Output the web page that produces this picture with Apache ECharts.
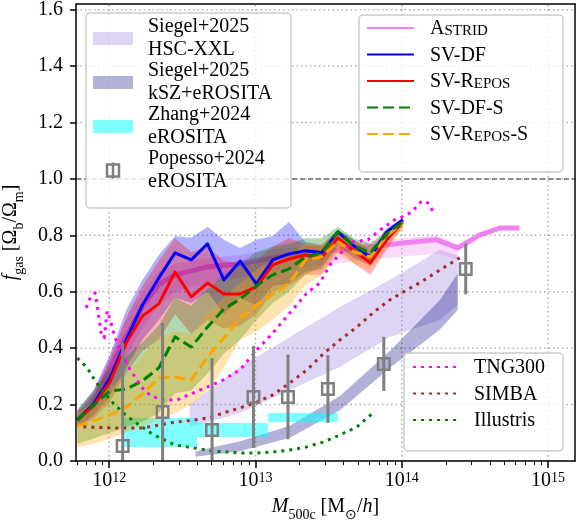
<!DOCTYPE html>
<html><head><meta charset="utf-8">
<script src="https://cdn.jsdelivr.net/npm/echarts@6/dist/echarts.min.js"></script>
<style>html,body{margin:0;padding:0;background:#fff}#c{width:578px;height:527px}</style>
</head><body><div id="c"></div>
<script>
// ---------------- DATA (x values are log10 M500c [Msun/h]) ----------------
const svLogM = [11.782, 11.893, 12.005, 12.116, 12.227, 12.339, 12.450, 12.561, 12.672, 12.784, 12.895, 13.006, 13.118, 13.229, 13.340, 13.451, 13.563, 13.674, 13.785, 13.897, 14.008];

const dfMean = [0.145,0.202,0.294,0.429,0.553,0.649,0.738,0.713,0.770,0.642,0.709,0.628,0.713,0.734,0.745,0.738,0.812,0.762,0.723,0.812,0.855];
const dfLow  = [0.12,0.16,0.23,0.33,0.43,0.50,0.58,0.56,0.60,0.52,0.58,0.55,0.62,0.63,0.67,0.68,0.76,0.72,0.69,0.78,0.84];
const dfHigh = [0.181,0.252,0.376,0.535,0.642,0.730,0.798,0.791,0.830,0.784,0.755,0.784,0.798,0.848,0.777,0.766,0.819,0.784,0.748,0.826,0.862];

const reposMean = [0.145,0.195,0.280,0.418,0.514,0.557,0.670,0.582,0.631,0.592,0.592,0.617,0.695,0.716,0.730,0.720,0.791,0.745,0.702,0.784,0.848];
const reposLow  = [0.12,0.15,0.21,0.31,0.39,0.43,0.52,0.45,0.50,0.47,0.48,0.52,0.60,0.62,0.66,0.66,0.75,0.70,0.66,0.75,0.83];
const reposHigh = [0.17,0.24,0.36,0.51,0.62,0.71,0.79,0.74,0.76,0.71,0.70,0.71,0.76,0.79,0.77,0.76,0.82,0.78,0.74,0.81,0.86];

const dfsMean = [0.145,0.199,0.248,0.255,0.284,0.330,0.440,0.404,0.475,0.539,0.574,0.621,0.660,0.681,0.723,0.738,0.812,0.762,0.738,0.805,0.848];
const dfsLow  = [0.06,0.08,0.10,0.12,0.14,0.17,0.24,0.25,0.31,0.38,0.43,0.50,0.56,0.60,0.66,0.69,0.77,0.73,0.70,0.78,0.83];
const dfsHigh = [0.18,0.25,0.33,0.37,0.42,0.48,0.58,0.55,0.61,0.66,0.70,0.74,0.76,0.77,0.79,0.79,0.83,0.79,0.77,0.82,0.86];

const repossMean = [0.124,0.142,0.163,0.191,0.238,0.294,0.298,0.287,0.369,0.436,0.507,0.553,0.589,0.628,0.713,0.723,0.777,0.741,0.723,0.798,0.844];
const repossLow  = [0.05,0.06,0.08,0.10,0.12,0.145,0.17,0.20,0.25,0.33,0.43,0.46,0.50,0.55,0.62,0.66,0.73,0.70,0.68,0.76,0.82];
const repossHigh = [0.17,0.21,0.26,0.31,0.37,0.44,0.46,0.45,0.52,0.58,0.63,0.68,0.71,0.73,0.77,0.77,0.81,0.78,0.76,0.82,0.86];

const astridLogM = [11.782,11.891,12.007,12.116,12.225,12.334,12.451,12.669,12.894,13.119,13.338,13.563,13.782,14.007,14.239,14.382,14.532,14.669,14.805];
const astridMean = [0.145,0.206,0.330,0.440,0.546,0.624,0.660,0.688,0.699,0.720,0.738,0.748,0.759,0.773,0.784,0.755,0.801,0.826,0.826];
const astridBandLogM = [11.782,11.891,12.007,12.116,12.225,12.334,12.451,12.669,12.894,13.119,13.338,13.563,13.782,14.007,14.239,14.382];
const astridLow  = [0.12,0.17,0.27,0.37,0.47,0.55,0.60,0.63,0.65,0.67,0.69,0.70,0.715,0.725,0.735,0.715];
const astridHigh = [0.17,0.24,0.38,0.50,0.60,0.67,0.70,0.72,0.73,0.75,0.76,0.77,0.78,0.79,0.80,0.77];

const tngLogM = [11.843,11.870,11.904,11.925,11.945,11.966,11.986,12.007,12.034,12.075,12.143,12.246,12.348,12.464,12.573,12.669,12.778,12.894,13.010,13.119,13.235,13.352,13.440,13.509,13.590,13.666,13.768,13.870,13.952,14.020,14.068,14.137,14.177,14.212];
const tngF = [0.543,0.578,0.596,0.525,0.454,0.436,0.532,0.500,0.447,0.387,0.323,0.245,0.216,0.216,0.241,0.262,0.287,0.323,0.394,0.454,0.525,0.596,0.631,0.695,0.741,0.777,0.784,0.826,0.855,0.869,0.883,0.922,0.915,0.887];

const simbaLogM = [11.823,12.041,12.232,12.416,12.573,12.669,12.778,12.894,13.010,13.119,13.235,13.352,13.461,13.577,13.693,13.802,13.918,14.034,14.143,14.259,14.396];
const simbaF = [0.121,0.117,0.117,0.135,0.145,0.152,0.170,0.188,0.209,0.234,0.277,0.323,0.379,0.429,0.475,0.525,0.571,0.606,0.638,0.677,0.720];

const illustrisLogM = [11.782,11.850,11.904,11.959,12.020,12.089,12.157,12.225,12.294,12.362,12.451,12.532,12.621,12.710,12.805,12.894,13.010,13.119,13.235,13.352,13.461,13.577,13.693,13.802];
const illustrisF = [0.365,0.330,0.284,0.245,0.209,0.174,0.145,0.121,0.096,0.078,0.057,0.050,0.043,0.035,0.032,0.028,0.028,0.032,0.039,0.050,0.067,0.092,0.121,0.170];

const hscLogM = [12.55,12.894,13.235,13.577,13.918,14.259,14.382];
const hscLow  = [0.12,0.170,0.252,0.333,0.440,0.500,0.553];
const hscHigh = [0.20,0.333,0.440,0.546,0.642,0.748,0.730];

const kszLogM = [12.59,12.894,13.235,13.577,13.918,14.259,14.382];
const kszLow  = [0.015,0.035,0.082,0.18,0.33,0.465,0.535];
const kszHigh = [0.035,0.07,0.125,0.23,0.39,0.57,0.665];

const zhangLogMLo = [12.096,12.601,13.085];
const zhangLogMHi = [12.601,13.085,13.563];
const zhangFLo = [0.050,0.085,0.138];
const zhangFHi = [0.152,0.135,0.170];

const popLogM = [12.092,12.365,12.703,12.986,13.222,13.495,13.877,14.437];
const popF    = [0.053,0.174,0.110,0.227,0.227,0.255,0.344,0.681];
const popErr  = [0.365,0.315,0.255,0.181,0.150,0.120,0.096,0.090];

const xMajor = [12, 13, 14, 15];
const yTicks = [0, 0.2, 0.4, 0.6, 0.8, 1.0, 1.2, 1.4, 1.6];
const refLine = [1.0];

// ---------------- CHART ----------------
const X_MIN = 11.773, X_MAX = 15.184, Y_MIN = 0, Y_MAX = 1.62;
const xMinor = [];
for (let n = 11; n <= 15; n++) for (let k = 2; k <= 9; k++) {
  const v = n + Math.log10(k);
  if (v > X_MIN && v < X_MAX) xMinor.push(v);
}
const FONT = "'Liberation Serif', 'Times New Roman', serif";

function band(name, xs, lo, hi, fill, z) {
  return {
    type: 'custom', name, z, silent: true, clip: true,
    data: xs.map((x, i) => [x, lo[i], hi[i]]),
    encode: { x: 0, y: [1, 2] },
    renderItem: (params, api) => {
      if (params.dataIndex !== 0) return null;
      const pts = [];
      for (let i = 0; i < xs.length; i++) pts.push(api.coord([xs[i], hi[i]]));
      for (let i = xs.length - 1; i >= 0; i--) pts.push(api.coord([xs[i], lo[i]]));
      return { type: 'polygon', shape: { points: pts }, style: { fill } };
    }
  };
}
function line(name, xs, ys, color, width, dash, z) {
  return {
    type: 'line', name, z, silent: true, symbol: 'none', showSymbol: false,
    data: xs.map((x, i) => [x, ys[i]]),
    lineStyle: { color, width, type: dash || 'solid', cap: 'butt', join: 'round' },
    itemStyle: { color }
  };
}
function hline(values, style) {
  return {
    type: 'custom', z: 1, silent: true, clip: true,
    data: values.map(v => [X_MIN, v]),
    renderItem: (p, api) => {
      const v = values[p.dataIndex];
      const a = api.coord([X_MIN, v]), b = api.coord([X_MAX, v]);
      return { type: 'line', shape: { x1: a[0], y1: a[1], x2: b[0], y2: b[1] }, style };
    }
  };
}
const gridStyle = { stroke: 'rgba(150,150,150,0.75)', lineWidth: 1.5, lineDash: [1.5, 3] };

const gridSeries = [
  {
    type: 'custom', z: 1, silent: true, clip: true,
    data: xMajor.map(v => [v, 0]),
    renderItem: (p, api) => {
      const v = xMajor[p.dataIndex];
      const a = api.coord([v, Y_MIN]), b = api.coord([v, Y_MAX]);
      return { type: 'line', shape: { x1: a[0], y1: a[1], x2: b[0], y2: b[1] }, style: gridStyle };
    }
  },
  hline(yTicks, gridStyle),
  hline(refLine, { stroke: '#8c8c8c', lineWidth: 2, lineDash: [5, 3] })
];

const zhangSeries = {
  type: 'custom', name: 'Zhang+2024\neROSITA', z: 2, silent: true, clip: true,
  itemStyle: { color: 'rgba(0,255,255,0.5)' },
  data: zhangLogMLo.map((x, i) => [x, zhangFLo[i]]),
  renderItem: (p, api) => {
    const i = p.dataIndex;
    const a = api.coord([zhangLogMLo[i], zhangFHi[i]]);
    const b = api.coord([zhangLogMHi[i], zhangFLo[i]]);
    return { type: 'rect', shape: { x: a[0], y: a[1], width: b[0] - a[0], height: b[1] - a[1] },
      style: { fill: 'rgba(0,255,255,0.5)' } };
  }
};

const popSeries = {
  type: 'custom', name: 'Popesso+2024\neROSITA', z: 6, silent: true, clip: true,
  itemStyle: { color: '#808080' },
  data: popLogM.map((x, i) => [x, popF[i]]),
  renderItem: (p, api) => {
    const i = p.dataIndex;
    const c = api.coord([popLogM[i], popF[i]]);
    const t = api.coord([popLogM[i], popF[i] + popErr[i]]);
    const b = api.coord([popLogM[i], popF[i] - popErr[i]]);
    return { type: 'group', children: [
      { type: 'line', shape: { x1: c[0], y1: t[1], x2: c[0], y2: b[1] }, style: { stroke: '#808080', lineWidth: 3 } },
      { type: 'rect', shape: { x: c[0] - 5.75, y: c[1] - 5.75, width: 11.5, height: 11.5 }, style: { fill: 'none', stroke: '#808080', lineWidth: 2.5 } }
    ] };
  }
};

const series = [
  ...gridSeries,
  band('Siegel+2025\nHSC-XXL', hscLogM, hscLow, hscHigh, 'rgba(147,112,219,0.3)', 2),
  band('Siegel+2025\nkSZ+eROSITA', kszLogM, kszLow, kszHigh, 'rgba(0,0,128,0.3)', 2),
  zhangSeries,
  band('astridBand', astridBandLogM, astridLow, astridHigh, 'rgba(238,130,238,0.3)', 3),
  line('Astrid', astridLogM, astridMean, '#ee82ee', 5, 'solid', 3),
  band('dfBand', svLogM, dfLow, dfHigh, 'rgba(0,0,255,0.3)', 4),
  band('reposBand', svLogM, reposLow, reposHigh, 'rgba(255,0,0,0.3)', 4),
  band('dfsBand', svLogM, dfsLow, dfsHigh, 'rgba(0,128,0,0.3)', 4),
  band('repossBand', svLogM, repossLow, repossHigh, 'rgba(255,165,0,0.3)', 4),
  line('SV-DF', svLogM, dfMean, '#0000ff', 3, 'solid', 5),
  line('SV-Repos', svLogM, reposMean, '#ff0000', 3, 'solid', 5),
  line('SV-Repos-S', svLogM, repossMean, '#ffa500', 3, [11, 5], 5),
  line('SV-DF-S', svLogM, dfsMean, '#008000', 3, [11, 5], 5),
  line('TNG300', tngLogM, tngF, '#ff00ff', 3, [3, 5], 5),
  line('SIMBA', simbaLogM, simbaF, '#a52a2a', 3, [3, 5], 5),
  line('Illustris', illustrisLogM, illustrisF, '#008000', 3, [3, 5], 5),
  popSeries
];

const rectIcon = 'path://M0,0 L40,0 L40,13 L0,13 Z';
const popIcon = 'path://M6,0 L6,16 M0,2 L12,2 L12,14 L0,14 Z';
const smallCaps = {
  n: { fontFamily: FONT, fontSize: 20, color: '#000', lineHeight: 22, verticalAlign: 'bottom' },
  s: { fontFamily: FONT, fontSize: 15, color: '#000', lineHeight: 17, verticalAlign: 'bottom' }
};
function capsFormatter(name) {
  if (name === 'Astrid') return '{n|A}{s|STRID}';
  if (name === 'SV-Repos') return '{n|SV-R}{s|EPOS}';
  if (name === 'SV-Repos-S') return '{n|SV-R}{s|EPOS}{n|-S}';
  return '{n|' + name + '}';
}
function plainFormatter(name) {
  return name.split('\n').map(s => '{n|' + s + '}').join('\n');
}
const richLbl = {
  i: { fontFamily: FONT, fontStyle: 'italic', fontSize: 20, color: '#000', lineHeight: 20, padding: [0, 0, 5, 0], verticalAlign: 'bottom' },
  r: { fontFamily: FONT, fontSize: 20, color: '#000', lineHeight: 20, padding: [0, 0, 5, 0], verticalAlign: 'bottom' },
  sub: { fontFamily: FONT, fontSize: 14, color: '#000', lineHeight: 14, verticalAlign: 'bottom' }
};

const chart = echarts.init(document.getElementById('c'), null, { renderer: 'canvas' });
chart.setOption({
  animation: false,
  backgroundColor: '#fff',
  textStyle: { fontFamily: FONT },
  grid: { left: 76, right: 3, top: 4, bottom: 66, containLabel: false, outerBoundsMode: 'none' },
  graphic: [
    { type: 'rect', z: 20, silent: true, shape: { x: 86, y: 13, width: 205, height: 195, r: 4 }, style: { fill: 'rgba(255,255,255,0.8)', stroke: '#cccccc', lineWidth: 1.5 } },
    { type: 'rect', z: 20, silent: true, shape: { x: 359, y: 15, width: 204, height: 157, r: 4 }, style: { fill: 'rgba(255,255,255,0.8)', stroke: '#cccccc', lineWidth: 1.5 } },
    { type: 'rect', z: 20, silent: true, shape: { x: 404, y: 353, width: 159, height: 98, r: 4 }, style: { fill: 'rgba(255,255,255,0.8)', stroke: '#cccccc', lineWidth: 1.5 } }
  ],
  legend: [
    {
      z: 21, left: 93, top: 17, orient: 'vertical', padding: 0, itemGap: 1,
      itemWidth: 40, itemHeight: 16, selectedMode: false, backgroundColor: 'transparent',
      formatter: plainFormatter,
      textStyle: { fontFamily: FONT, fontSize: 20, color: '#000', padding: [0, 0, 0, 10],
        rich: { n: { fontFamily: FONT, fontSize: 20, color: '#000', lineHeight: 23 } } },
      data: [
        { name: 'Siegel+2025\nHSC-XXL', icon: rectIcon, itemStyle: { color: 'rgba(147,112,219,0.3)' } },
        { name: 'Siegel+2025\nkSZ+eROSITA', icon: rectIcon, itemStyle: { color: 'rgba(0,0,128,0.3)' } },
        { name: 'Zhang+2024\neROSITA', icon: rectIcon, itemStyle: { color: 'rgba(0,255,255,0.5)' } },
        { name: 'Popesso+2024\neROSITA', icon: popIcon, itemStyle: { color: 'none', borderColor: '#808080', borderWidth: 2.5 } }
      ]
    },
    {
      z: 21, left: 366, top: 19, orient: 'vertical', padding: 0, itemGap: 6.5,
      itemWidth: 47, itemHeight: 14, selectedMode: false,
      itemStyle: { opacity: 0 },
      formatter: capsFormatter,
      textStyle: { fontFamily: FONT, fontSize: 20, color: '#000', padding: [0, 0, 0, 11], rich: smallCaps },
      data: ['Astrid', 'SV-DF', 'SV-Repos', 'SV-DF-S', 'SV-Repos-S']
    },
    {
      z: 21, left: 412, top: 358, orient: 'vertical', padding: 0, itemGap: 6.5,
      itemWidth: 43, itemHeight: 14, selectedMode: false,
      itemStyle: { opacity: 0 },
      formatter: capsFormatter,
      textStyle: { fontFamily: FONT, fontSize: 20, color: '#000', padding: [0, 0, 0, 13], rich: smallCaps },
      data: ['TNG300', 'SIMBA', 'Illustris']
    }
  ],
  xAxis: [
    {
      type: 'value', min: X_MIN, max: X_MAX, position: 'bottom', z: 10,
      axisLine: { show: true, onZero: false, lineStyle: { color: '#000', width: 1.5 } },
      axisTick: { show: true, customValues: xMajor, length: 7, lineStyle: { color: '#000', width: 1.5 } },
      axisLabel: {
        customValues: xMajor, margin: 10, color: '#000', fontFamily: FONT,
        formatter: v => '{b|10}{s|' + Math.round(v) + '}',
        rich: {
          b: { fontFamily: FONT, fontSize: 20, color: '#000', lineHeight: 20, verticalAlign: 'bottom', padding: [5, 0, 0, 0] },
          s: { fontFamily: FONT, fontSize: 14, color: '#000', lineHeight: 14, verticalAlign: 'top' }
        }
      },
      splitLine: { show: false },
      name: '{i|M}{sub|500c}{r| [M}{sub|⊙}{r|/}{i|h}{r|]}',
      nameLocation: 'middle', nameGap: 41,
      nameTextStyle: { fontFamily: FONT, rich: richLbl }
    },
    {
      type: 'value', min: X_MIN, max: X_MAX, position: 'bottom', z: 10,
      axisLine: { show: false },
      axisTick: { show: true, customValues: xMinor, length: 4, lineStyle: { color: '#000', width: 1 } },
      axisLabel: { show: false }, splitLine: { show: false }
    },
    {
      type: 'value', min: X_MIN, max: X_MAX, position: 'top', z: 10,
      axisLine: { show: true, onZero: false, lineStyle: { color: '#000', width: 1.5 } },
      axisTick: { show: false }, axisLabel: { show: false }, splitLine: { show: false }
    }
  ],
  yAxis: [
    {
      type: 'value', min: Y_MIN, max: Y_MAX, position: 'left', z: 10,
      axisLine: { show: true, onZero: false, lineStyle: { color: '#000', width: 1.5 } },
      axisTick: { show: true, customValues: yTicks, length: 6, lineStyle: { color: '#000', width: 1.5 } },
      axisLabel: { customValues: yTicks, margin: 13, fontFamily: FONT, fontSize: 20, color: '#000', formatter: v => v.toFixed(1) },
      splitLine: { show: false },
      name: '{i|f}{sub|gas}{r| [Ω}{sub|b}{r|/Ω}{sub|m}{r|]}',
      nameLocation: 'middle', nameGap: 50, nameRotate: 90,
      nameTextStyle: { fontFamily: FONT, rich: richLbl }
    },
    {
      type: 'value', min: Y_MIN, max: Y_MAX, position: 'right', z: 10,
      axisLine: { show: true, onZero: false, lineStyle: { color: '#000', width: 1.5 } },
      axisTick: { show: false }, axisLabel: { show: false }, splitLine: { show: false }
    }
  ],
  series
});
</script></body></html>
